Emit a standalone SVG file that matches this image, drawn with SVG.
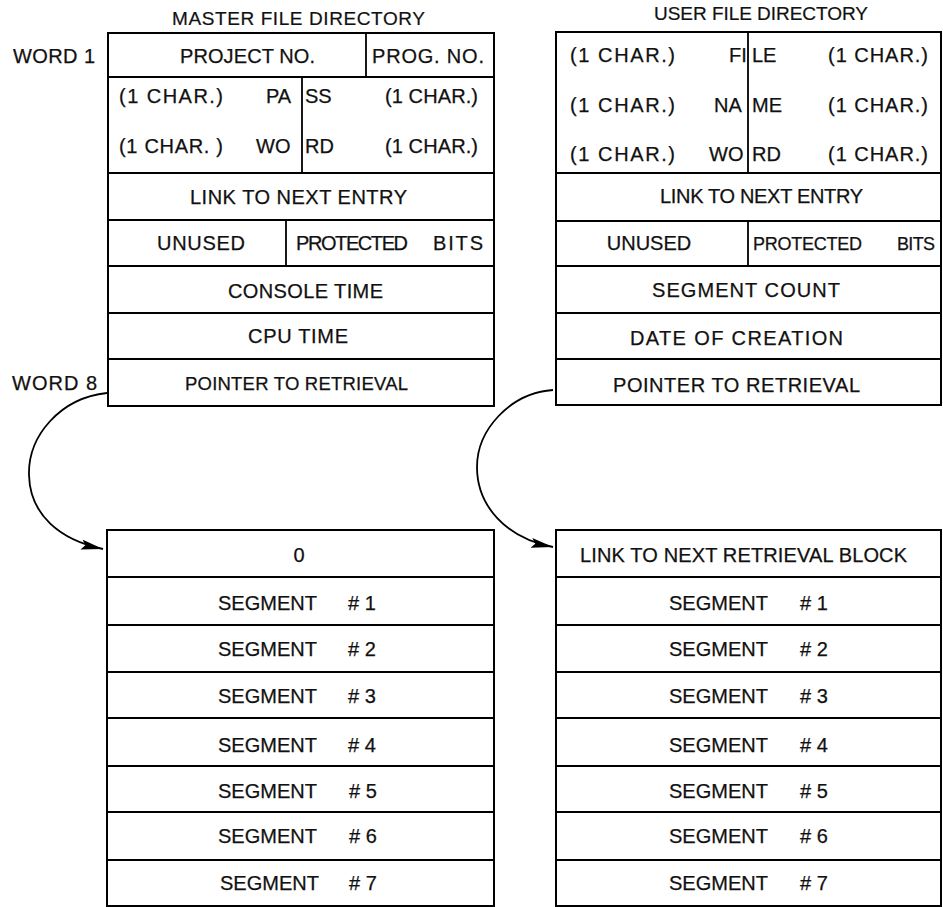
<svg xmlns="http://www.w3.org/2000/svg" width="943" height="907" viewBox="0 0 943 907">
<style>
.box{fill:#fff;stroke:#000;stroke-width:2}
.ln{stroke:#000;stroke-width:1.8;fill:none}
.t{font-family:"Liberation Sans",Arial,sans-serif;font-size:20px;fill:#111;stroke:#111;stroke-width:0.25}
.c{text-anchor:middle}
.h{font-family:"Liberation Sans",Arial,sans-serif;font-size:19px;fill:#111;stroke:#111;stroke-width:0.2}
.conn{fill:none;stroke:#000;stroke-width:1.8}
</style>
<defs>
<marker id="ah" markerUnits="userSpaceOnUse" markerWidth="24" markerHeight="12" refX="22" refY="5" orient="auto">
<path d="M0,0 L22,5 L0,10 L4,5 z" fill="#000"/>
</marker>
</defs>

<g id="labels">
<text class="h" x="172" y="25" textLength="253" lengthAdjust="spacing">MASTER FILE DIRECTORY</text>
<text class="h" x="654" y="20" textLength="214" lengthAdjust="spacing">USER FILE DIRECTORY</text>
<text class="t" x="13" y="63" textLength="82" lengthAdjust="spacing">WORD 1</text>
<text class="t" x="12" y="390" textLength="85" lengthAdjust="spacing">WORD 8</text>
</g>

<g id="mfd">
<rect class="box" x="108" y="33" width="386" height="373"/>
<path class="ln" d="M108,77H494M108,173H494M108,220H494M108,266H494M108,313H494M108,359H494M366,33V77M302,77V173M286,220V266"/>
<text class="t" x="180" y="63" textLength="135" lengthAdjust="spacing">PROJECT NO.</text>
<text class="t" x="372" y="63" textLength="112" lengthAdjust="spacing">PROG. NO.</text>
<text class="t" x="119" y="103" textLength="104" lengthAdjust="spacing">(1 CHAR.)</text>
<text class="t" x="266" y="103">PA</text>
<text class="t" x="305" y="103">SS</text>
<text class="t" x="385" y="103" textLength="93" lengthAdjust="spacing">(1 CHAR.)</text>
<text class="t" x="119" y="153" textLength="104" lengthAdjust="spacing">(1 CHAR. )</text>
<text class="t" x="256" y="153">WO</text>
<text class="t" x="305" y="153">RD</text>
<text class="t" x="385" y="153" textLength="93" lengthAdjust="spacing">(1 CHAR.)</text>
<text class="t" x="190" y="204" textLength="217" lengthAdjust="spacing">LINK TO NEXT ENTRY</text>
<text class="t" x="157" y="250" textLength="88" lengthAdjust="spacing">UNUSED</text>
<text class="t" x="296" y="250" textLength="112" lengthAdjust="spacing">PROTECTED</text>
<text class="t" x="433" y="250" textLength="50" lengthAdjust="spacing">BITS</text>
<text class="t" x="228" y="298" textLength="155" lengthAdjust="spacing">CONSOLE TIME</text>
<text class="t" x="248" y="343" textLength="100" lengthAdjust="spacing">CPU TIME</text>
<text class="t" x="185" y="390" style="font-size:18.5px" textLength="223" lengthAdjust="spacing">POINTER TO RETRIEVAL</text>
</g>

<g id="ufd">
<rect class="box" x="556" y="32" width="385" height="373"/>
<path class="ln" d="M556,173H941M556,221H941M556,266H941M556,313H941M556,359H941M748,32V173M748,221V266"/>
<text class="t" x="570" y="62" textLength="105" lengthAdjust="spacing">(1 CHAR.)</text>
<text class="t" x="729" y="62">FI</text>
<text class="t" x="752" y="62">LE</text>
<text class="t" x="828" y="62" textLength="100" lengthAdjust="spacing">(1 CHAR.)</text>
<text class="t" x="570" y="112" textLength="105" lengthAdjust="spacing">(1 CHAR.)</text>
<text class="t" x="714" y="112">NA</text>
<text class="t" x="752" y="112">ME</text>
<text class="t" x="828" y="112" textLength="100" lengthAdjust="spacing">(1 CHAR.)</text>
<text class="t" x="570" y="161" textLength="105" lengthAdjust="spacing">(1 CHAR.)</text>
<text class="t" x="709" y="161">WO</text>
<text class="t" x="752" y="161">RD</text>
<text class="t" x="828" y="161" textLength="100" lengthAdjust="spacing">(1 CHAR.)</text>
<text class="t" x="660" y="203" textLength="203" lengthAdjust="spacing">LINK TO NEXT ENTRY</text>
<text class="t c" x="649" y="250">UNUSED</text>
<text class="t" x="753" y="250" style="font-size:18px" textLength="109" lengthAdjust="spacing">PROTECTED</text>
<text class="t" x="897" y="250" style="font-size:18px" textLength="38" lengthAdjust="spacing">BITS</text>
<text class="t" x="652" y="297" textLength="188" lengthAdjust="spacing">SEGMENT COUNT</text>
<text class="t" x="630" y="345" textLength="213" lengthAdjust="spacing">DATE OF CREATION</text>
<text class="t" x="613" y="392" textLength="247" lengthAdjust="spacing">POINTER TO RETRIEVAL</text>
</g>

<g id="retrieval-mfd">
<rect class="box" x="107" y="530" width="387" height="376"/>
<path class="ln" d="M107,577H494M107,625H494M107,672H494M107,718H494M107,766H494M107,812H494M107,860H494"/>
<text class="t c" x="299" y="562">0</text>
<text class="t" y="610"><tspan x="218">SEGMENT</tspan><tspan x="348"># 1</tspan></text>
<text class="t" y="656"><tspan x="218">SEGMENT</tspan><tspan x="348"># 2</tspan></text>
<text class="t" y="703"><tspan x="218">SEGMENT</tspan><tspan x="348"># 3</tspan></text>
<text class="t" y="752"><tspan x="218">SEGMENT</tspan><tspan x="348"># 4</tspan></text>
<text class="t" y="798"><tspan x="218">SEGMENT</tspan><tspan x="349"># 5</tspan></text>
<text class="t" y="843"><tspan x="218">SEGMENT</tspan><tspan x="349"># 6</tspan></text>
<text class="t" y="890"><tspan x="220">SEGMENT</tspan><tspan x="349"># 7</tspan></text>
</g>

<g id="retrieval-ufd">
<rect class="box" x="556" y="530" width="385" height="376"/>
<path class="ln" d="M556,577H941M556,625H941M556,672H941M556,718H941M556,766H941M556,812H941M556,860H941"/>
<text class="t" x="580" y="562" textLength="327" lengthAdjust="spacing">LINK TO NEXT RETRIEVAL BLOCK</text>
<text class="t" y="610"><tspan x="669">SEGMENT</tspan><tspan x="800"># 1</tspan></text>
<text class="t" y="656"><tspan x="669">SEGMENT</tspan><tspan x="800"># 2</tspan></text>
<text class="t" y="703"><tspan x="669">SEGMENT</tspan><tspan x="800"># 3</tspan></text>
<text class="t" y="752"><tspan x="669">SEGMENT</tspan><tspan x="800"># 4</tspan></text>
<text class="t" y="798"><tspan x="669">SEGMENT</tspan><tspan x="800"># 5</tspan></text>
<text class="t" y="843"><tspan x="669">SEGMENT</tspan><tspan x="800"># 6</tspan></text>
<text class="t" y="890"><tspan x="669">SEGMENT</tspan><tspan x="800"># 7</tspan></text>
</g>

<g id="connectors">
<path class="conn" d="M107,393 C60,398 28,436 29,475 C30,515 60,540 103,549" marker-end="url(#ah)"/>
<path class="conn" d="M553,390 C510,393 477,430 477,467 C477,505 505,538 553,547" marker-end="url(#ah)"/>
</g>
</svg>
